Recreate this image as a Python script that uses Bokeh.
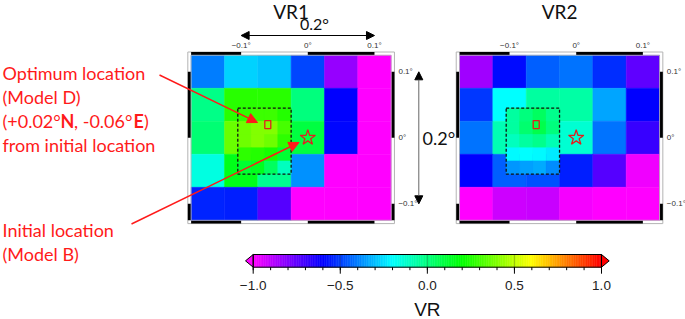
import numpy as np
from bokeh.plotting import figure
from bokeh.models import Range1d, LinearColorMapper, Arrow, NormalHead, ColumnDataSource
from bokeh.core.properties import value
from bokeh.embed import file_html
from bokeh.resources import INLINE

# ---------------- data ----------------
lon_centers = [-0.15, -0.10, -0.05, 0.0, 0.05, 0.10]
lat_centers = [0.10, 0.05, 0.0, -0.05, -0.10]
cell = 0.05

vr1_coarse = [
    [-0.40, -0.27, -0.29, -0.49, -0.83, -1.00],
    [-0.01, 0.26, 0.26, 0.00, -0.60, -1.00],
    [0.02, 0.36, 0.38, 0.10, -0.59, -1.00],
    [-0.15, 0.16, -0.03, -0.37, -1.00, -1.00],
    [-0.54, -0.55, -0.73, -1.00, -1.00, -1.00],
]
vr2_coarse = [
    [-0.85, -0.58, -0.45, -0.42, -0.53, -0.75],
    [-0.51, -0.20, -0.05, -0.06, -0.34, -0.60],
    [-0.42, -0.08, -0.05, -0.13, -0.42, -0.68],
    [-0.60, -0.45, -0.47, -0.55, -0.73, -0.97],
    [-1.00, -0.92, -0.91, -0.98, -1.00, -1.00],
]

fine_lon = [-0.095, -0.075, -0.055, -0.035]
fine_lat = [0.035, 0.015, -0.005, -0.025, -0.045]
fine_cell = 0.02

vr1_fine = [
    [0.27, 0.29, 0.29, 0.25],
    [0.37, 0.40, 0.40, 0.31],
    [0.37, 0.40, 0.37, 0.27],
    [0.27, 0.25, 0.23, 0.12],
    [0.12, 0.15, 0.05, -0.10],
]
vr2_fine = [
    [-0.05, 0.00, 0.05, -0.02],
    [-0.05, 0.03, 0.08, 0.00],
    [-0.10, -0.05, -0.02, -0.08],
    [-0.21, -0.20, -0.21, -0.23],
    [-0.36, -0.35, -0.33, -0.38],
]

optimum = (-0.06, 0.02)
initial = (0.0, 0.0)
map_ticks = [-0.1, 0.0, 0.1]
map_tick_labels = ["\u22120.1\u00b0", "0\u00b0", "0.1\u00b0"]
span_label = "0.2\u00b0"

cb_ticks = [-1.0, -0.5, 0.0, 0.5, 1.0]
cb_tick_labels = ["\u22121.0", "\u22120.5", "0.0", "0.5", "1.0"]
cb_minor = [round(-1.0 + 0.1 * i, 1) for i in range(21)]
cb_title = "VR"

panel_titles = ["VR1", "VR2"]
note_top = ["Optimum location", "(Model D)"]
note_coord = ["(+0.02\u00b0", "N", ", -0.06\u00b0", "E", ")"]
note_from = "from initial location"
note_bottom = ["Initial location", "(Model B)"]

# ---------------- layout constants (picture pixels) ----------------
W, H = 685, 319
PX0, PX1, PY0, PY1 = 0, W, 0, H
KX, KY = 666.7, 660.0          # px per degree
Y0 = 137.3                      # picture y of 0 deg lat
X0 = {"VR1": 307.3, "VR2": 575.7}
CB_X0, CB_K = 426.85, 174.15    # colorbar centre / px per unit
RED = "#ff1a1a"

# colormap (GMT rainbow)
stops = [(-1.0, (255, 0, 255)), (-0.6, (0, 0, 255)), (-0.2, (0, 255, 255)),
         (0.2, (0, 255, 0)), (0.6, (255, 255, 0)), (1.0, (255, 0, 0))]
def make_palette(n):
    xs = [s[0] for s in stops]
    out = []
    for v in np.linspace(-1, 1, n):
        rgb = [int(round(np.interp(v, xs, [s[1][k] for s in stops]))) for k in range(3)]
        out.append("#%02x%02x%02x" % tuple(rgb))
    return out
palette = make_palette(256)
mapper = LinearColorMapper(palette=palette, low=-1.0, high=1.0)

p = figure(width=W, height=H, x_range=Range1d(PX0, PX1), y_range=Range1d(PY1, PY0),
           output_backend="svg", toolbar_location=None,
           x_axis_location=None, y_axis_location=None,
           min_border=0, outline_line_color=None, background_fill_color="white",
           border_fill_color="white")
p.grid.grid_line_color = None

p.extra_y_ranges["yd"] = Range1d((Y0 - PY1) / KY, (Y0 - PY0) / KY)
for name, x0 in X0.items():
    p.extra_x_ranges[name] = Range1d((PX0 - x0) / KX, (PX1 - x0) / KX)
p.extra_x_ranges["cb"] = Range1d((PX0 - CB_X0) / CB_K, (PX1 - CB_X0) / CB_K)

lon_min, lon_max = lon_centers[0] - cell / 2, lon_centers[-1] + cell / 2
lat_min, lat_max = lat_centers[-1] - cell / 2, lat_centers[0] + cell / 2
BX, BY = 3.3 / KX, 3.3 / KY

def black_segments(lo, hi, ticks):
    b = [lo] + [t for t in ticks if lo < t < hi] + [hi]
    return [(b[i], b[i + 1]) for i in range(0, len(b) - 1, 2)]

def grid_source(lons, lats, vals):
    xs, ys, vs = [], [], []
    for i, la in enumerate(lats):
        for j, lo in enumerate(lons):
            xs.append(lo); ys.append(la); vs.append(vals[i][j])
    return ColumnDataSource(dict(x=xs, y=ys, v=vs))

tick_font = value("Liberation Sans")
for title, coarse, fine in [("VR1", vr1_coarse, vr1_fine), ("VR2", vr2_coarse, vr2_fine)]:
    kw = dict(x_range_name=title, y_range_name="yd")
    # frame band
    p.quad(left=lon_min - BX, right=lon_max + BX, bottom=lat_min - BY, top=lat_max + BY,
           fill_color="white", line_color="#b4b4b4", line_width=1, **kw)
    for a, b in black_segments(lon_min, lon_max, map_ticks):
        p.quad(left=[a, a], right=[b, b], bottom=[lat_max, lat_min - BY],
               top=[lat_max + BY, lat_min], fill_color="black", line_color=None, **kw)
    for a, b in black_segments(lat_min, lat_max, map_ticks):
        p.quad(left=[lon_min - BX, lon_max], right=[lon_min, lon_max + BX],
               bottom=[a, a], top=[b, b], fill_color="black", line_color=None, **kw)
    # cells
    fmap = {"field": "v", "transform": mapper}
    p.rect(x="x", y="y", width=cell, height=cell, source=grid_source(lon_centers, lat_centers, coarse),
           fill_color=fmap, line_color=fmap, line_width=0.5, **kw)
    p.rect(x="x", y="y", width=fine_cell, height=fine_cell, source=grid_source(fine_lon, fine_lat, fine),
           fill_color=fmap, line_color=fmap, line_width=0.5, **kw)
    p.quad(left=lon_min, right=lon_max, bottom=lat_min, top=lat_max,
           fill_color=None, line_color="#b4b4b4", line_width=0.8, **kw)
    # dashed box around fine grid
    p.quad(left=fine_lon[0] - fine_cell / 2, right=fine_lon[-1] + fine_cell / 2,
           bottom=fine_lat[-1] - fine_cell / 2, top=fine_lat[0] + fine_cell / 2,
           fill_color=None, line_color="#111111", line_width=1.3, line_dash="3 2", **kw)
    # markers
    p.rect(x=optimum[0], y=optimum[1], width=6, height=8, width_units="screen",
           height_units="screen", fill_color=None, line_color="#e02020", line_width=1.3, **kw)
    p.scatter(x=initial[0], y=initial[1], marker="star", size=16, fill_color=None,
              line_color="#e02020", line_width=1.3, **kw)
    # tick labels (top & right)
    p.text(x=map_ticks, y=[45] * 3, text=map_tick_labels, x_range_name=title,
           text_align="center", text_baseline="middle", text_font=tick_font,
           text_font_size="8px", text_color="#333333")
    x_right = X0[title] + (lon_max + BX) * KX + 4
    p.text(x=[x_right] * 3, y=map_ticks, text=map_tick_labels, y_range_name="yd",
           text_align="left", text_baseline="middle", text_font=tick_font,
           text_font_size="8px", text_color="#333333")
    # title
    p.text(x=[(lon_min + lon_max) / 2], y=[11], text=[title], x_range_name=title,
           text_align="center", text_baseline="middle", text_font=value("Lato"),
           text_font_size="19px", text_color="#111111")

# horizontal 0.2 deg span arrow above VR1
p.add_layout(Arrow(start=NormalHead(size=8, fill_color="black", line_color="black"),
                   end=NormalHead(size=8, fill_color="black", line_color="black"),
                   x_start=map_ticks[0], x_end=map_ticks[-1], y_start=35, y_end=35,
                   x_range_name="VR1", line_color="black", line_width=1.2))
p.text(x=[0.01], y=[22.5], text=[span_label], x_range_name="VR1", text_align="center",
       text_baseline="middle", text_font=value("Lato"), text_font_size="16px",
       text_color="#111111")
# vertical 0.2 deg span arrow between panels
p.add_layout(Arrow(start=NormalHead(size=8, fill_color="black", line_color="black"),
                   end=NormalHead(size=8, fill_color="black", line_color="black"),
                   x_start=418.3, x_end=418.3, y_start=map_ticks[-1], y_end=map_ticks[0],
                   y_range_name="yd", line_color="#666666", line_width=1.0))
p.text(x=[422], y=[0.0], text=[span_label], y_range_name="yd", text_align="left",
       text_baseline="middle", text_font=value("Lato"), text_font_size="18px",
       text_color="#111111")

# left notes
note_font = value("Lato")
p.text(x=[2, 2], y=[72, 96.5], text=note_top, text_align="left", text_baseline="middle",
       text_font=note_font, text_font_size="18px", text_color=RED)
coord_x = [2, 60, 73.5, 133, 143.5]
for t, xx in zip(note_coord, coord_x):
    p.text(x=[xx], y=[120], text=[t], text_align="left", text_baseline="middle",
           text_font=note_font, text_font_size="18px", text_color=RED,
           text_font_style="bold" if t in ("N", "E") else "normal")
p.text(x=[2], y=[144], text=[note_from], text_align="left", text_baseline="middle",
       text_font=note_font, text_font_size="18px", text_color=RED)
p.text(x=[2, 2], y=[229, 253], text=note_bottom, text_align="left", text_baseline="middle",
       text_font=note_font, text_font_size="18px", text_color=RED)
p.add_layout(Arrow(end=NormalHead(size=10, fill_color=RED, line_color=RED),
                   x_start=159, y_start=74.5, x_end=257, y_end=122,
                   line_color=RED, line_width=1.4))
p.add_layout(Arrow(end=NormalHead(size=10, fill_color=RED, line_color=RED),
                   x_start=131, y_start=223.5, x_end=298.5, y_end=142,
                   line_color=RED, line_width=1.4))

# colour bar
CB_TOP, CB_BOT = 254.0, 266.7
edges = np.linspace(-1.0, 1.0, 201)
cb_src = ColumnDataSource(dict(left=edges[:-1], right=edges[1:], v=(edges[:-1] + edges[1:]) / 2))
p.quad(left="left", right="right", bottom=CB_BOT, top=CB_TOP, source=cb_src,
       fill_color={"field": "v", "transform": mapper},
       line_color={"field": "v", "transform": mapper}, line_width=0.5, x_range_name="cb")
tri = 7.7 / CB_K
mid = (CB_TOP + CB_BOT) / 2
p.patches(xs=[[-1.0, -1.0, -1.0 - tri], [1.0, 1.0, 1.0 + tri]],
          ys=[[CB_TOP, CB_BOT, mid], [CB_TOP, CB_BOT, mid]],
          fill_color=[palette[0], palette[-1]], line_color="black", line_width=1,
          x_range_name="cb")
p.segment(x0=cb_ticks[1:-1], x1=cb_ticks[1:-1], y0=CB_TOP, y1=CB_BOT, line_color="black",
          line_alpha=0.25, line_width=1, x_range_name="cb")
p.quad(left=-1.0, right=1.0, bottom=CB_BOT, top=CB_TOP, fill_color=None, line_color="black",
       line_width=1, x_range_name="cb")
p.segment(x0=cb_minor, x1=cb_minor, y0=CB_BOT, y1=CB_BOT + 3, line_color="black",
          line_width=1, x_range_name="cb")
p.segment(x0=cb_ticks, x1=cb_ticks, y0=CB_BOT, y1=CB_BOT + 6.5, line_color="black",
          line_width=1, x_range_name="cb")
p.text(x=cb_ticks, y=[285] * 5, text=cb_tick_labels, x_range_name="cb", text_align="center",
       text_baseline="middle", text_font=value("Liberation Sans"), text_font_size="13.5px",
       text_color="#222222")
p.text(x=[0.0], y=[309], text=[cb_title], x_range_name="cb", text_align="center",
       text_baseline="middle", text_font=value("Liberation Sans"), text_font_size="19px",
       text_color="#111111")

open("out.html", "w").write(file_html(p, INLINE))
